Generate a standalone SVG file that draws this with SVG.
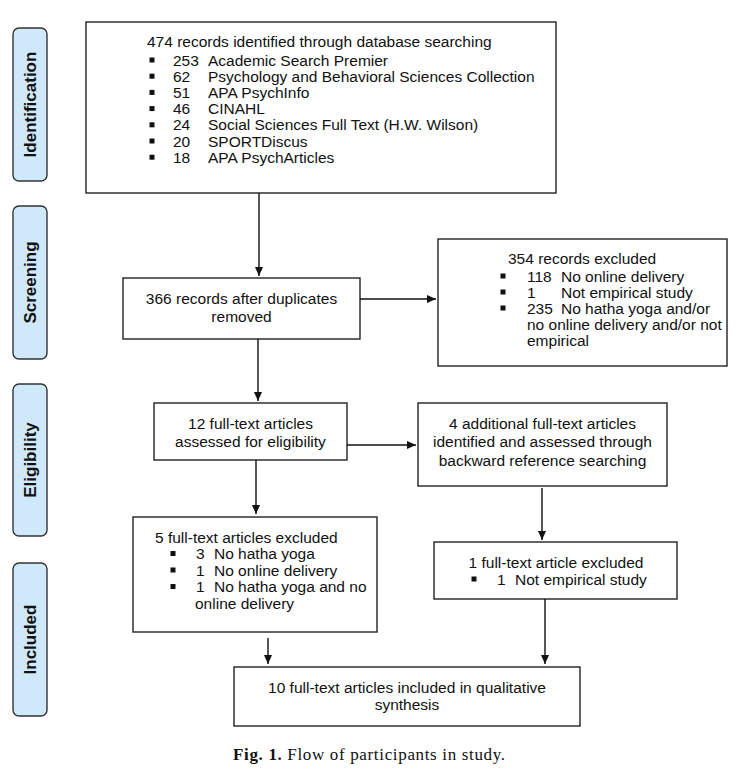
<svg xmlns="http://www.w3.org/2000/svg" width="744" height="776" viewBox="0 0 744 776">
<style>
.box{fill:#fff;stroke:#222;stroke-width:1.4}
.side{fill:#cfe9fb;stroke:#333;stroke-width:1.4}
.t{font-family:"Liberation Sans",Arial,sans-serif;font-size:15.5px;fill:#111}
.c{text-anchor:middle}
.st{font-family:"Liberation Sans",Arial,sans-serif;font-size:17px;font-weight:bold;fill:#111;text-anchor:middle}
.b{fill:#111}
.ln{stroke:#111;stroke-width:1.4;fill:none}
.cap{font-family:"Liberation Serif","Times New Roman",serif;font-size:17px;fill:#111}
</style>
<defs>
<marker id="ah" markerWidth="10" markerHeight="10" refX="9" refY="5" orient="auto" markerUnits="userSpaceOnUse">
<path d="M0,1 L9,5 L0,9 Z" fill="#111"/>
</marker>
</defs>
<rect width="744" height="776" fill="#fff"/>

<g id="side-identification"><rect class="side" x="13" y="28" width="34" height="153" rx="6"/><text class="st" transform="translate(36,104.5) rotate(-90)">Identification</text></g>
<g id="side-screening"><rect class="side" x="13" y="206" width="34" height="153" rx="6"/><text class="st" transform="translate(36,282.5) rotate(-90)">Screening</text></g>
<g id="side-eligibility"><rect class="side" x="13" y="384" width="34" height="152" rx="6"/><text class="st" transform="translate(36,460) rotate(-90)">Eligibility</text></g>
<g id="side-included"><rect class="side" x="13" y="563" width="34" height="153" rx="6"/><text class="st" transform="translate(36,639.5) rotate(-90)">Included</text></g>

<g id="n-identified">
<rect class="box" x="86" y="22" width="470" height="171"/>
<text class="t" x="147" y="47">474 records identified through database searching</text>
<rect class="b" x="149.5" y="57.5" width="5" height="5"/><text class="t" x="173" y="65.5">253</text><text class="t" x="208" y="65.5">Academic Search Premier</text>
<rect class="b" x="149.5" y="73.7" width="5" height="5"/><text class="t" x="173" y="81.7">62</text><text class="t" x="208" y="81.7">Psychology and Behavioral Sciences Collection</text>
<rect class="b" x="149.5" y="89.9" width="5" height="5"/><text class="t" x="173" y="97.9">51</text><text class="t" x="208" y="97.9">APA PsychInfo</text>
<rect class="b" x="149.5" y="106.1" width="5" height="5"/><text class="t" x="173" y="114.1">46</text><text class="t" x="208" y="114.1">CINAHL</text>
<rect class="b" x="149.5" y="122.3" width="5" height="5"/><text class="t" x="173" y="130.3">24</text><text class="t" x="208" y="130.3">Social Sciences Full Text (H.W. Wilson)</text>
<rect class="b" x="149.5" y="138.5" width="5" height="5"/><text class="t" x="173" y="146.5">20</text><text class="t" x="208" y="146.5">SPORTDiscus</text>
<rect class="b" x="149.5" y="154.7" width="5" height="5"/><text class="t" x="173" y="162.7">18</text><text class="t" x="208" y="162.7">APA PsychArticles</text>
</g>

<g id="n-dedup">
<rect class="box" x="123" y="278" width="237" height="61"/>
<text class="t c" x="241.5" y="303.5">366 records after duplicates</text>
<text class="t c" x="241.5" y="321.5">removed</text>
</g>

<g id="n-excluded354">
<rect class="box" x="438" y="239" width="289" height="127"/>
<text class="t" x="508" y="263.5">354 records excluded</text>
<rect class="b" x="500.5" y="273.5" width="5" height="5"/><text class="t" x="527" y="281.5">118</text><text class="t" x="561" y="281.5">No online delivery</text>
<rect class="b" x="500.5" y="289.5" width="5" height="5"/><text class="t" x="527" y="297.5">1</text><text class="t" x="561" y="297.5">Not empirical study</text>
<rect class="b" x="500.5" y="305.5" width="5" height="5"/><text class="t" x="527" y="313.5">235</text><text class="t" x="561" y="313.5">No hatha yoga and/or</text>
<text class="t" x="527" y="329.5">no online delivery and/or not</text>
<text class="t" x="527" y="345.5">empirical</text>
</g>

<g id="n-fulltext12">
<rect class="box" x="154" y="403" width="193" height="57"/>
<text class="t c" x="250.5" y="428.5">12 full-text articles</text>
<text class="t c" x="250.5" y="446.5">assessed for eligibility</text>
</g>

<g id="n-additional4">
<rect class="box" x="418" y="403" width="249" height="83"/>
<text class="t c" x="542.5" y="428.5">4 additional full-text articles</text>
<text class="t c" x="542.5" y="447">identified and assessed through</text>
<text class="t c" x="542.5" y="465.5">backward reference searching</text>
</g>

<g id="n-excluded5">
<rect class="box" x="133" y="517" width="244" height="115"/>
<text class="t" x="155" y="542.5">5 full-text articles excluded</text>
<rect class="b" x="170.5" y="551" width="5" height="5"/><text class="t" x="196" y="559">3</text><text class="t" x="214" y="559">No hatha yoga</text>
<rect class="b" x="170.5" y="567.5" width="5" height="5"/><text class="t" x="196" y="575.5">1</text><text class="t" x="214" y="575.5">No online delivery</text>
<rect class="b" x="170.5" y="584" width="5" height="5"/><text class="t" x="196" y="592">1</text><text class="t" x="214" y="592">No hatha yoga and no</text>
<text class="t" x="195" y="608.5">online delivery</text>
</g>

<g id="n-excluded1">
<rect class="box" x="434" y="542" width="243" height="57"/>
<text class="t c" x="556" y="567.5">1 full-text article excluded</text>
<rect class="b" x="471.5" y="576.5" width="5" height="5"/><text class="t" x="497" y="584.5">1</text><text class="t" x="515" y="584.5">Not empirical study</text>
</g>

<g id="n-included">
<rect class="box" x="234" y="667" width="346" height="59"/>
<text class="t c" x="407" y="692.5" textLength="278" lengthAdjust="spacingAndGlyphs">10 full-text articles included in qualitative</text>
<text class="t c" x="407" y="710">synthesis</text>
</g>

<g id="connectors">
<line class="ln" x1="259" y1="193" x2="259" y2="276" marker-end="url(#ah)"/>
<line class="ln" x1="360" y1="299" x2="436" y2="299" marker-end="url(#ah)"/>
<line class="ln" x1="258" y1="339" x2="258" y2="401" marker-end="url(#ah)"/>
<line class="ln" x1="347" y1="445" x2="416" y2="445" marker-end="url(#ah)"/>
<line class="ln" x1="256" y1="460" x2="256" y2="514" marker-end="url(#ah)"/>
<line class="ln" x1="542" y1="488" x2="542" y2="540" marker-end="url(#ah)"/>
<line class="ln" x1="268" y1="638" x2="268" y2="664" marker-end="url(#ah)"/>
<line class="ln" x1="545" y1="599" x2="545" y2="664" marker-end="url(#ah)"/>
</g>

<text class="cap" x="233" y="760" textLength="272"><tspan font-weight="bold">Fig. 1.</tspan> Flow of participants in study.</text>
</svg>
